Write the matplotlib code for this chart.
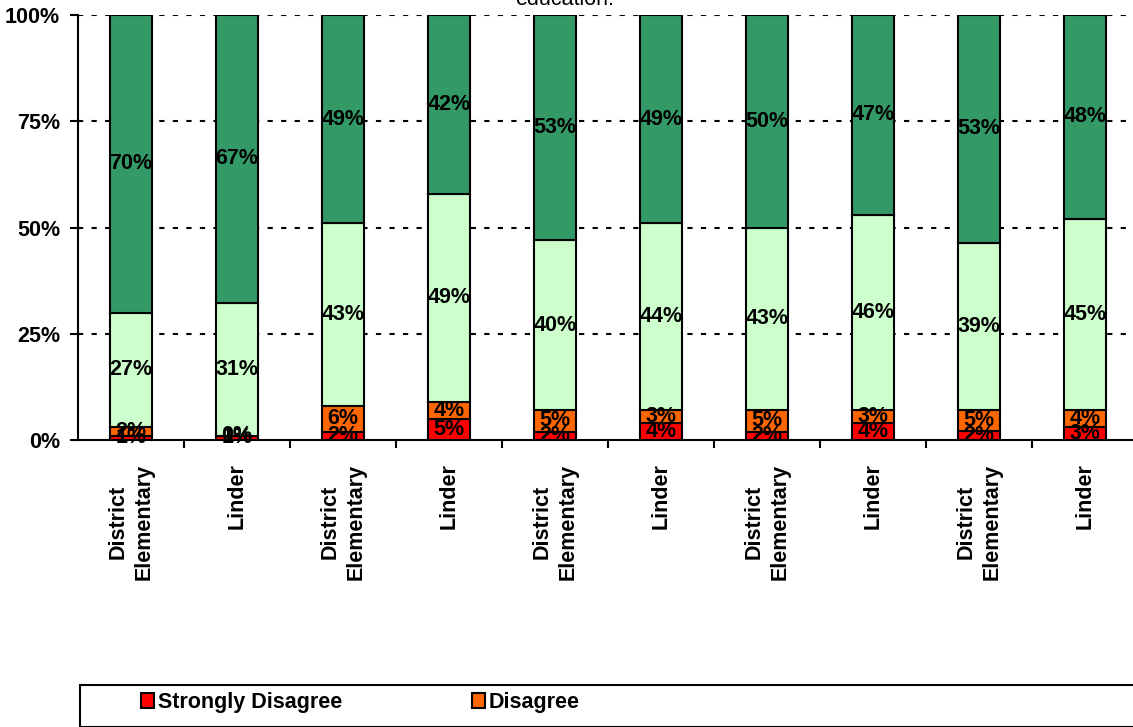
import matplotlib
matplotlib.use("Agg")
import matplotlib.pyplot as plt
from matplotlib.patches import Rectangle
import numpy as np

plt.rcParams['font.family'] = ['Liberation Sans', 'DejaVu Sans']

categories = ["District\nElementary", "Linder"] * 5
series_names = ["Strongly Disagree", "Disagree", "Agree", "Strongly Agree"]
strongly_disagree = [1, 1, 2, 5, 2, 4, 2, 4, 2, 3]
disagree = [2, 0, 6, 4, 5, 3, 5, 3, 5, 4]
agree = [27, 31, 43, 49, 40, 44, 43, 46, 39, 45]
strongly_agree = [70, 67, 49, 42, 53, 49, 50, 47, 53, 48]
colors = ["#FF0000", "#FF6600", "#CCFFCC", "#339966"]
yticks = [0, 25, 50, 75, 100]
ytick_labels = ["0%", "25%", "50%", "75%", "100%"]
title_text = "education."

W, H = 1133, 727
fig = plt.figure(figsize=(W / 100, H / 100), dpi=100)
ax = fig.add_axes([78 / W, 1 - 440 / H, 1060 / W, 425 / H])

data = np.array([strongly_disagree, disagree, agree, strongly_agree], dtype=float)
totals = data.sum(axis=0)
norm = data / totals * 100
x = np.arange(len(categories))
bottom = np.zeros(len(categories))
handles = []
for i, name in enumerate(series_names):
    b = ax.bar(x, norm[i], 0.4, bottom=bottom, color=colors[i], edgecolor="black",
               linewidth=1.5, label=name, zorder=3)
    handles.append(b)
    for j in range(len(x)):
        ax.text(x[j], bottom[j] + norm[i][j] / 2, f"{int(data[i][j])}%", ha="center",
                va="center", fontsize=15.5, fontweight="bold", zorder=4)
    bottom += norm[i]

ax.set_xlim(-0.5, len(categories) - 0.5)
ax.set_ylim(0, 100)
ax.set_yticks(yticks)
ax.set_yticklabels(ytick_labels, fontsize=15.5, fontweight="bold")
ax.set_xticks(x)
ax.set_xticklabels(categories, rotation=90, fontsize=15.5, fontweight="bold",
                   va="top", ha="center", multialignment="center", linespacing=1.35)
ax.set_xticks(np.arange(0.5, len(categories) - 0.5, 1), minor=True)
ax.tick_params(axis="x", which="major", length=0, pad=17)
ax.tick_params(axis="x", which="minor", length=6, width=1.5, direction="out")
ax.tick_params(axis="y", length=6, width=1.5, direction="out", pad=7)

for yv in yticks[1:]:
    ax.axhline(yv, color="black", linestyle=(0, (2.5, 4)), linewidth=1.5, zorder=1)

for s in ["top", "right"]:
    ax.spines[s].set_visible(False)
ax.spines["left"].set_linewidth(1.5)
ax.spines["bottom"].set_linewidth(1.5)

fig.text(565 / W, 1 - 5 / H, title_text, ha="center", va="baseline", fontsize=15.5)

# legend frame extends beyond the figure like the reference
fig.patches.append(Rectangle((80 / W, 0), 1.2, (H - 685) / H, transform=fig.transFigure,
                             facecolor="white", edgecolor="black", linewidth=1.5, zorder=0))
order = [0, 2, 1, 3]  # legend fills column-wise: row 1 shows SD and D
leg = fig.legend(handles=[handles[k] for k in order], labels=[series_names[k] for k in order],
                 ncol=2, loc="upper left",
                 bbox_to_anchor=(141 / W, 1 - 692 / H), frameon=False,
                 prop={"size": 15.5, "weight": "bold"}, handlelength=0.6, handleheight=0.7,
                 handletextpad=0.2, columnspacing=6.0, borderaxespad=0, borderpad=0,
                 labelspacing=0.8)

fig.savefig("out.png", dpi=100)
